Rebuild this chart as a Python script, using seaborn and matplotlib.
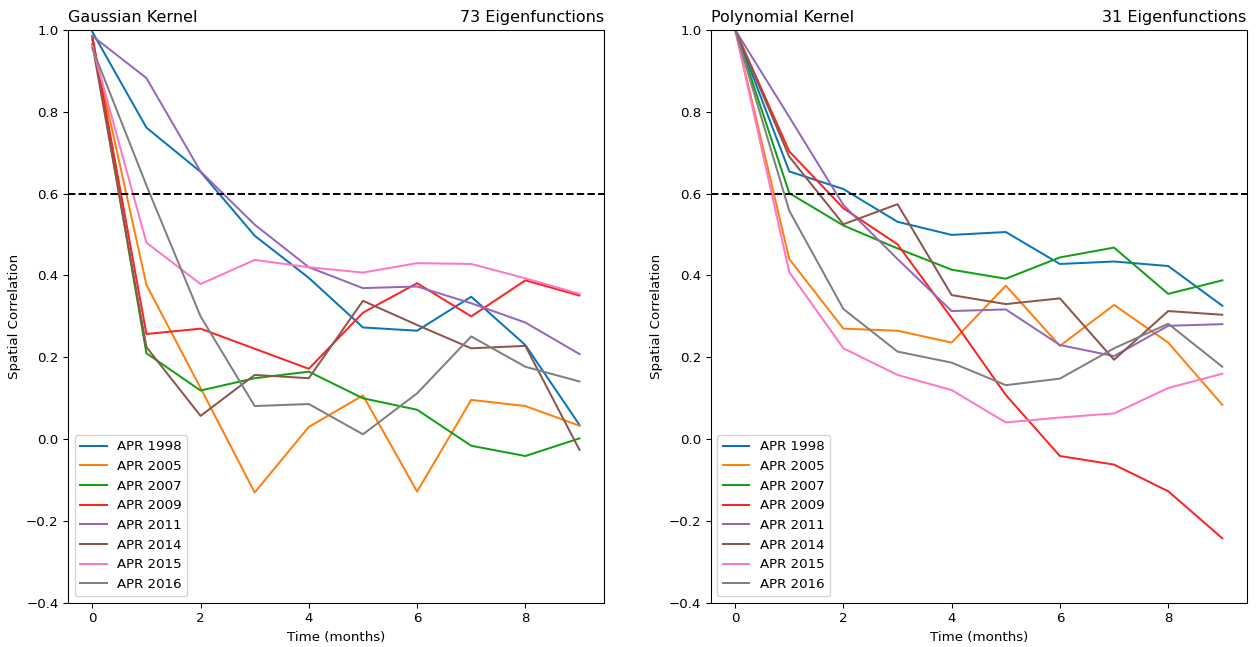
import numpy as np
import pandas as pd
import matplotlib
matplotlib.use("Agg")
import matplotlib.pyplot as plt
import seaborn as sns

months = list(range(10))
series_names = ["APR 1998", "APR 2005", "APR 2007", "APR 2009",
                "APR 2011", "APR 2014", "APR 2015", "APR 2016"]

gaussian = {
    "APR 1998": [0.995, 0.761, 0.653, 0.497, 0.394, 0.273, 0.265, 0.348, 0.230, 0.035],
    "APR 2005": [0.975, 0.377, 0.125, -0.130, 0.030, 0.107, -0.128, 0.096, 0.081, 0.033],
    "APR 2007": [0.980, 0.210, 0.119, 0.149, 0.165, 0.100, 0.072, -0.016, -0.041, 0.002],
    "APR 2009": [0.985, 0.257, 0.270, 0.221, 0.172, 0.309, 0.381, 0.300, 0.388, 0.351],
    "APR 2011": [0.985, 0.882, 0.654, 0.524, 0.420, 0.369, 0.373, 0.332, 0.285, 0.208],
    "APR 2014": [0.965, 0.225, 0.057, 0.157, 0.149, 0.338, 0.279, 0.222, 0.228, -0.026],
    "APR 2015": [0.960, 0.480, 0.379, 0.438, 0.420, 0.407, 0.430, 0.428, 0.393, 0.355],
    "APR 2016": [0.955, 0.620, 0.300, 0.081, 0.086, 0.012, 0.112, 0.251, 0.177, 0.141],
}

polynomial = {
    "APR 1998": [1.0, 0.654, 0.611, 0.531, 0.499, 0.506, 0.428, 0.434, 0.423, 0.326],
    "APR 2005": [1.0, 0.440, 0.270, 0.265, 0.236, 0.375, 0.228, 0.328, 0.236, 0.084],
    "APR 2007": [1.0, 0.601, 0.522, 0.466, 0.414, 0.392, 0.444, 0.468, 0.355, 0.388],
    "APR 2009": [1.0, 0.703, 0.564, 0.476, 0.296, 0.108, -0.041, -0.062, -0.127, -0.242],
    "APR 2011": [1.0, 0.787, 0.572, 0.440, 0.313, 0.317, 0.230, 0.203, 0.277, 0.281],
    "APR 2014": [1.0, 0.690, 0.525, 0.574, 0.352, 0.330, 0.344, 0.194, 0.313, 0.304],
    "APR 2015": [1.0, 0.408, 0.222, 0.157, 0.120, 0.041, 0.053, 0.063, 0.125, 0.160],
    "APR 2016": [1.0, 0.558, 0.318, 0.214, 0.187, 0.132, 0.148, 0.222, 0.282, 0.177],
}

threshold = 0.6
panels = [("Gaussian Kernel", "73 Eigenfunctions", gaussian),
          ("Polynomial Kernel", "31 Eigenfunctions", polynomial)]

colors = ["#0a74ba", "#ff7f0e", "#12a012", "#ff2222",
          "#9467bd", "#8c564b", "#ff77c6", "#7f7f7f"]
palette = dict(zip(series_names, colors))

s = 0.96
plt.rcParams.update({
    "font.family": ["DejaVu Sans"],
    "font.size": 10 * s,
    "axes.linewidth": 0.8 * s,
    "xtick.major.size": 3.5 * s,
    "ytick.major.size": 3.5 * s,
    "xtick.major.width": 0.8 * s,
    "ytick.major.width": 0.8 * s,
    "xtick.major.pad": 3.5 * s,
    "ytick.major.pad": 3.5 * s,
    "xtick.labelsize": 10 * s,
    "ytick.labelsize": 10 * s,
    "axes.labelsize": 10 * s,
    "legend.fontsize": 10 * s,
})

fig = plt.figure(figsize=(12.58, 6.47), dpi=100)
ax_pos = [[0.054, 0.068, 0.426, 0.886], [0.565, 0.068, 0.426, 0.886]]

for pos, (ltitle, rtitle, data) in zip(ax_pos, panels):
    ax = fig.add_axes(pos)
    rows = []
    for name in series_names:
        for m, v in zip(months, data[name]):
            rows.append({"month": m, "corr": v, "series": name})
    df = pd.DataFrame(rows)
    sns.lineplot(data=df, x="month", y="corr", hue="series",
                 hue_order=series_names, palette=palette,
                 linewidth=1.5 * s, ax=ax, legend=True)
    ax.axhline(threshold, color="black", linestyle="--", linewidth=1.5 * s)
    ax.set_ylim(-0.4, 1.0)
    ax.set_xlim(-0.45, 9.45)
    ax.set_xticks([0, 2, 4, 6, 8])
    ax.set_xlabel("Time (months)", labelpad=4 * s)
    ax.set_ylabel("Spatial Correlation", labelpad=4 * s)
    ax.set_title(ltitle, loc="left", fontsize=12 * s, pad=6 * s)
    ax.set_title(rtitle, loc="right", fontsize=12 * s, pad=6 * s)
    leg = ax.legend(loc="lower left", title=None)

fig.savefig("out.png", dpi=100)
